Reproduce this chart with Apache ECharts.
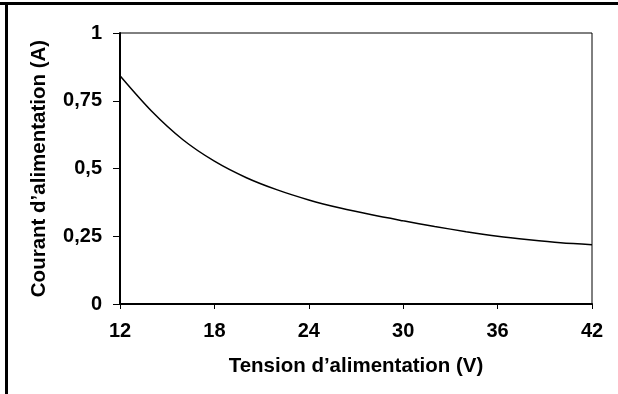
<!DOCTYPE html>
<html>
<head>
<meta charset="utf-8">
<script src="https://cdn.jsdelivr.net/npm/echarts@6/dist/echarts.min.js"></script>
<style>
html,body{margin:0;padding:0;background:#fff;}
#c{width:618px;height:394px;}
</style>
</head>
<body>
<div id="c"></div>
<script>
const voltage = [12, 14, 16, 18, 20, 22, 24, 26, 28, 30, 32, 34, 36, 38, 40, 42];
const current = [0.842, 0.712, 0.606, 0.527, 0.467, 0.421, 0.384, 0.354, 0.329, 0.307, 0.286, 0.267, 0.250, 0.237, 0.226, 0.219];
const xTicks = [12, 18, 24, 30, 36, 42];
const yTicks = [0, 0.25, 0.5, 0.75, 1];
const xTitle = 'Tension d’alimentation (V)';
const yTitle = 'Courant d’alimentation (A)';

const chart = echarts.init(document.getElementById('c'), null, {renderer: 'canvas'});
const fontFam = '"Liberation Sans", Arial, sans-serif';
const fmtNum = v => String(v).replace('.', ',');
chart.setOption({
  animation: false,
  backgroundColor: '#fff',
  grid: {left: 120, right: 26, top: 33, bottom: 90, show: true, borderColor: '#000', borderWidth: 1},
  xAxis: {
    type: 'value', min: 12, max: 42, interval: 6,
    name: xTitle, nameLocation: 'middle', nameGap: 52,
    nameTextStyle: {fontFamily: fontFam, fontWeight: 'bold', fontSize: 20.5, color: '#000'},
    axisLine: {onZero: false, lineStyle: {color: '#000', width: 2}},
    axisTick: {show: true, length: 5, lineStyle: {color: '#000', width: 1}},
    axisLabel: {margin: 17, fontFamily: fontFam, fontWeight: 'bold', fontSize: 20, color: '#000',
      customValues: xTicks},
    splitLine: {show: false}
  },
  yAxis: {
    type: 'value', min: 0, max: 1, interval: 0.25,
    name: yTitle, nameLocation: 'middle', nameGap: 70, nameRotate: 90,
    nameTextStyle: {fontFamily: fontFam, fontWeight: 'bold', fontSize: 20.5, color: '#000'},
    axisLine: {show: true, lineStyle: {color: '#000', width: 2}},
    axisTick: {show: true, length: 7, lineStyle: {color: '#000', width: 1}},
    axisLabel: {margin: 18, fontFamily: fontFam, fontWeight: 'bold', fontSize: 20, color: '#000',
      customValues: yTicks, formatter: v => fmtNum(v)},
    splitLine: {show: false}
  },
  graphic: [
    {type: 'rect', shape: {x: 0, y: 2, width: 618, height: 3}, style: {fill: '#000'}, silent: true},
    {type: 'rect', shape: {x: 5, y: 2, width: 3, height: 392}, style: {fill: '#000'}, silent: true}
  ],
  series: [{
    type: 'line',
    data: voltage.map((v, i) => [v, current[i]]),
    smooth: 0.3,
    showSymbol: false,
    lineStyle: {color: '#000', width: 1.5}
  }]
});
</script>
</body>
</html>
